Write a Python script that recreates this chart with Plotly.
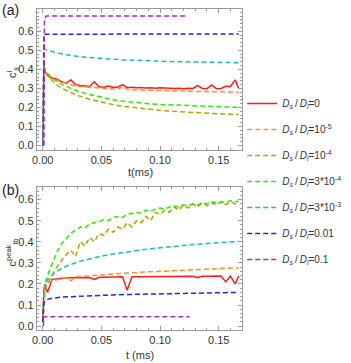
import plotly.graph_objects as go
from plotly.subplots import make_subplots

# time grids (ms)
t_smooth = [0, 0.0005, 0.001, 0.002, 0.004, 0.007, 0.01, 0.015, 0.02, 0.03, 0.04, 0.05,
            0.06, 0.07, 0.08, 0.09, 0.10, 0.11, 0.12, 0.13, 0.14, 0.15, 0.16, 0.167]
t_fine = [0, 0.001, 0.002, 0.004, 0.008, 0.012, 0.016, 0.020, 0.024, 0.028, 0.032, 0.036,
          0.040, 0.044, 0.048, 0.052, 0.056, 0.060, 0.064, 0.068, 0.072, 0.076, 0.080,
          0.084, 0.088, 0.092, 0.096, 0.100, 0.104, 0.108, 0.112, 0.116, 0.120, 0.124,
          0.128, 0.132, 0.136, 0.140, 0.144, 0.148, 0.152, 0.156, 0.160, 0.164, 0.167]

# ---- panel (a): c_li^l ----
a_red = [0.0, 0.43, 0.39, 0.37, 0.355, 0.35, 0.335, 0.328, 0.345, 0.32, 0.316, 0.313,
         0.31, 0.335, 0.309, 0.306, 0.312, 0.305, 0.307, 0.32, 0.304, 0.306, 0.303,
         0.305, 0.302, 0.304, 0.301, 0.303, 0.301, 0.302, 0.300, 0.301, 0.299, 0.301,
         0.300, 0.316, 0.300, 0.299, 0.318, 0.299, 0.300, 0.311, 0.310, 0.345, 0.30]
a_orange = [0.0, 0.41, 0.38, 0.365, 0.35, 0.342, 0.33, 0.322, 0.318, 0.312, 0.31, 0.306,
            0.304, 0.302, 0.30, 0.298, 0.297, 0.296, 0.295, 0.31, 0.294, 0.293, 0.292,
            0.291, 0.29, 0.29, 0.289, 0.288, 0.288, 0.287, 0.287, 0.286, 0.286, 0.285,
            0.285, 0.284, 0.284, 0.283, 0.283, 0.282, 0.282, 0.281, 0.281, 0.28, 0.28]
a_olive = [0.0, 0.2, 0.40, 0.39, 0.37, 0.35, 0.33, 0.305, 0.29, 0.262, 0.243, 0.228,
           0.215, 0.205, 0.197, 0.19, 0.185, 0.18, 0.176, 0.173, 0.17, 0.167, 0.165, 0.163]
a_green = [0.0, 0.2, 0.42, 0.40, 0.38, 0.36, 0.345, 0.325, 0.31, 0.285, 0.268, 0.252,
           0.24, 0.232, 0.225, 0.22, 0.216, 0.213, 0.21, 0.208, 0.206, 0.204, 0.202, 0.201]
a_cyan = [0.0, 0.3, 0.51, 0.505, 0.50, 0.495, 0.49, 0.483, 0.477, 0.468, 0.462, 0.457,
          0.453, 0.45, 0.447, 0.445, 0.443, 0.441, 0.44, 0.439, 0.438, 0.437, 0.436, 0.435]
a_blue_t = [0.0005, 0.001, 0.002, 0.167]
a_blue = [0.0, 0.585, 0.585, 0.586]
a_purple_t = [0.001, 0.0015, 0.003, 0.123]
a_purple = [0.0, 0.67, 0.68, 0.68]

# ---- panel (b): c_lb^peak ----
b_red = [0.02, 0.17, 0.2, 0.16, 0.222, 0.225, 0.227, 0.228, 0.229, 0.23, 0.23, 0.231,
         0.231, 0.222, 0.232, 0.232, 0.233, 0.233, 0.233, 0.234, 0.17, 0.234, 0.234,
         0.235, 0.235, 0.235, 0.235, 0.236, 0.236, 0.236, 0.236, 0.236, 0.237, 0.237,
         0.237, 0.23, 0.237, 0.237, 0.237, 0.237, 0.238, 0.21, 0.238, 0.2, 0.238]
b_orange = [0.02, 0.16, 0.19, 0.205, 0.215, 0.222, 0.226, 0.23, 0.215, 0.234, 0.236, 0.238,
            0.24, 0.242, 0.244, 0.245, 0.247, 0.248, 0.249, 0.25, 0.252, 0.253, 0.255,
            0.256, 0.257, 0.258, 0.259, 0.26, 0.261, 0.262, 0.263, 0.264, 0.265, 0.266,
            0.267, 0.268, 0.269, 0.27, 0.271, 0.272, 0.273, 0.274, 0.275, 0.276, 0.277]
b_olive = [0.02, 0.13, 0.17, 0.2, 0.24, 0.28, 0.31, 0.34, 0.36, 0.33, 0.4, 0.38,
           0.42, 0.4, 0.44, 0.43, 0.46, 0.445, 0.47, 0.46, 0.49, 0.47, 0.5,
           0.49, 0.52, 0.5, 0.54, 0.53, 0.55, 0.54, 0.565, 0.55, 0.575, 0.56,
           0.58, 0.565, 0.585, 0.57, 0.585, 0.575, 0.59, 0.575, 0.59, 0.58, 0.585]
b_green = [0.02, 0.15, 0.2, 0.24, 0.3, 0.35, 0.39, 0.415, 0.44, 0.455, 0.47, 0.465,
           0.485, 0.49, 0.495, 0.505, 0.5, 0.515, 0.52, 0.515, 0.53, 0.535, 0.54,
           0.535, 0.55, 0.545, 0.555, 0.56, 0.555, 0.565, 0.57, 0.565, 0.575, 0.57,
           0.58, 0.575, 0.585, 0.58, 0.59, 0.585, 0.59, 0.585, 0.595, 0.59, 0.592]
b_cyan = [0.02, 0.12, 0.17, 0.2, 0.22, 0.238, 0.252, 0.27, 0.284, 0.305, 0.32, 0.332,
          0.342, 0.351, 0.359, 0.366, 0.372, 0.378, 0.383, 0.388, 0.392, 0.396, 0.4, 0.402]
b_blue = [0.02, 0.08, 0.11, 0.12, 0.127, 0.131, 0.134, 0.137, 0.139, 0.142, 0.144, 0.146,
          0.148, 0.15, 0.151, 0.152, 0.153, 0.154, 0.155, 0.156, 0.157, 0.158, 0.159, 0.16]
b_purple_t = [0.0005, 0.001, 0.125]
b_purple = [0.0, 0.045, 0.045]

ratio = '<i>D</i><sub><i>s</i></sub>\u2009/\u2009<i>D</i><sub><i>l</i></sub>='
names = [ratio + '0', ratio + '10<sup>-5</sup>', ratio + '10<sup>-4</sup>',
         ratio + '3*10<sup>-4</sup>', ratio + '3*10<sup>-3</sup>', ratio + '0.01', ratio + '0.1']
colors = ['#ff1a1a', '#ff8c33', '#b3a300', '#33e600', '#1fbcbc', '#2323f0', '#a030b0']

series_a = [(t_fine, a_red), (t_fine, a_orange), (t_smooth, a_olive), (t_smooth, a_green),
            (t_smooth, a_cyan), (a_blue_t, a_blue), (a_purple_t, a_purple)]
series_b = [(t_fine, b_red), (t_fine, b_orange), (t_fine, b_olive), (t_fine, b_green),
            (t_smooth, b_cyan), (t_smooth, b_blue), (b_purple_t, b_purple)]

fig = make_subplots(rows=2, cols=1)

for i, ((ta, ya), (tb, yb)) in enumerate(zip(series_a, series_b)):
    dash = 'solid' if i == 0 else '5px,3px'
    line = dict(color=colors[i], width=1.5, dash=dash)
    fig.add_trace(go.Scatter(x=ta, y=ya, mode='lines', line=line, name=names[i],
                             legendgroup=str(i)), row=1, col=1)
    fig.add_trace(go.Scatter(x=tb, y=yb, mode='lines', line=line, name=names[i],
                             legendgroup=str(i), showlegend=False), row=2, col=1)

frame = dict(showline=True, linecolor='#999999', linewidth=1, mirror='ticks',
             ticks='inside', ticklen=4, tickcolor='#999999', showgrid=False, zeroline=False,
             automargin=False, tickfont=dict(size=11, color='#333333'),
             minor=dict(ticks='inside', ticklen=2, tickcolor='#999999', showgrid=False))

fig.update_xaxes(frame, range=[-0.005, 0.170], tickvals=[0, 0.05, 0.10, 0.15],
                 tickformat='.2f', minor_dtick=0.01, minor_tick0=0, domain=[0.105, 0.69])
fig.update_yaxes(frame, tickvals=[0, 0.1, 0.2, 0.3, 0.4, 0.5, 0.6], tickformat='.1f',
                 minor_dtick=0.02, minor_tick0=0)
fig.update_yaxes(domain=[0.587, 0.974], range=[-0.023, 0.715], row=1, col=1)
fig.update_yaxes(domain=[0.091, 0.485], range=[-0.018, 0.66], row=2, col=1)

# panel labels and axis titles (paper coordinates)
notes = [('(a)', 0.0, 1.0, 0, 14), ('(b)', 0.0, 0.505, 0, 14),
         ('t(ms)', 0.40, 0.525, 0, 11), ('t (ms)', 0.40, 0.022, 0, 11),
         ('c<sup>l</sup><sub>li</sub>', 0.035, 0.80, -90, 11),
         ('c<sup>peak</sup><sub>lb</sub>', 0.035, 0.305, -90, 11)]
for text, x, y, ang, size in notes:
    fig.add_annotation(text=text, x=x, y=y, xref='paper', yref='paper',
                       xanchor='left' if text.startswith('(') else 'center',
                       yanchor='top' if text.startswith('(') else 'middle',
                       textangle=ang, showarrow=False,
                       font=dict(size=size, color='#222222' if size == 14 else '#333333'))

fig.update_layout(
    width=351, height=363, margin=dict(l=0, r=0, t=0, b=0),
    paper_bgcolor='white', plot_bgcolor='white',
    font=dict(family='Liberation Sans, Arial, sans-serif', size=11, color='#333333'),
    legend=dict(x=0.69, y=0.755, xanchor='left', yanchor='top', tracegroupgap=7,
                itemwidth=30, font=dict(size=10, color='#333333'),
                bgcolor='rgba(0,0,0,0)'),
)

fig.write_html("out.html", config={'displayModeBar': False},
               post_script="document.body.style.margin='0';")
